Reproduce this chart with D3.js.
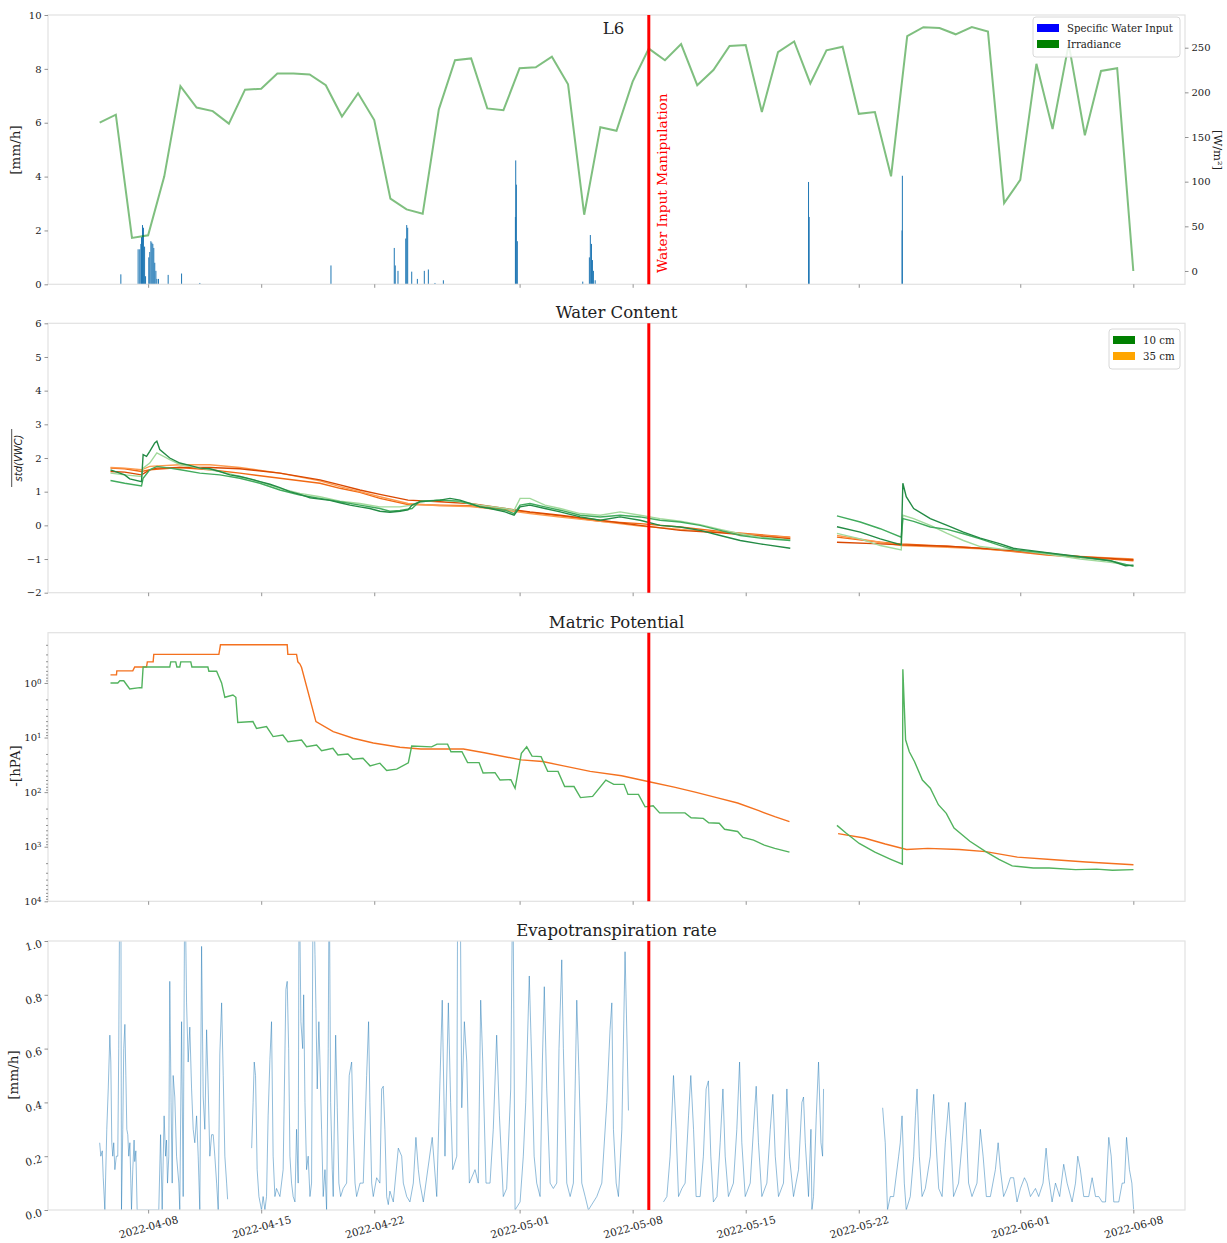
<!DOCTYPE html>
<html>
<head>
<meta charset="utf-8">
<script src="https://cdn.jsdelivr.net/npm/d3@7"></script>
<style>
  body { margin: 0; background: #fff; }
  svg text { font-family: "DejaVu Serif", serif; fill: #222; }
</style>
</head>
<body>
<script>
// days are counted from 2022-04-05 00:00
const dayZero = new Date(2022, 3, 5);
const xTickLabels = ["2022-04-08", "2022-04-15", "2022-04-22", "2022-05-01", "2022-05-08",
  "2022-05-15", "2022-05-22", "2022-06-01", "2022-06-08"];
const manipulationDate = "2022-05-09";

// daily mean irradiance [W/m2], one per day from 2022-04-05 to 2022-06-08
const irradiance = [166, 175, 37, 40, 106, 207, 183, 179, 165, 203, 204, 221, 221, 220, 208, 173,
  199, 169, 81, 69, 64, 181, 236, 238, 182, 180, 227, 228, 240, 209, 63, 161, 157, 212, 249, 236,
  254, 208, 225, 252, 253, 178, 245, 257, 210, 247, 251, 176, 178, 106, 263, 273, 272, 265, 273,
  268, 76, 102, 232, 159, 254, 152, 224, 227, 0];

// hourly specific water input [mm/h]
const rainDays = [1.31, 2.38, 2.48, 2.55, 2.59, 2.65, 2.71, 2.78, 2.84, 3.04, 3.1, 3.17, 3.23, 3.29,
  3.35, 3.41, 3.48, 3.54, 3.64, 4.24, 5.07, 6.2, 14.32, 18.24, 18.3, 18.47, 18.95, 19.01, 19.07,
  19.32, 19.67, 20.1, 20.35, 20.76, 21.28, 25.74, 25.76, 25.8, 25.86, 29.91, 30.32, 30.38, 30.45,
  30.51, 30.57, 30.68, 43.89, 43.93, 49.68, 49.7];
const rainRates = [0.37, 1.3, 1.3, 1.5, 1.75, 2.2, 2.1, 1.4, 0.3, 1.0, 1.2, 1.6, 1.55, 1.5,
  1.35, 0.8, 0.5, 0.2, 0.2, 0.35, 0.4, 0.05, 0.7, 1.35, 0.7, 0.5, 1.7, 2.2, 2.1,
  0.47, 0.2, 0.5, 0.55, 0.05, 0.15, 2.5, 4.6, 3.7, 1.6, 0.1, 1.0, 1.83, 1.5,
  0.9, 0.5, 0.15, 3.8, 2.5, 2.0, 4.03];

// standardised water content, [day, value]; null marks the logger gap
const vwc10a = [[0.67, 1.65], [1.55, 1.5], [1.86, 1.38], [2.59, 1.3], [2.69, 2.1], [2.9, 2.05], [3.1, 2.2],
  [3.41, 2.45], [3.54, 2.5], [3.72, 2.25], [4.34, 2.0], [4.96, 1.85], [5.58, 1.78], [6.2, 1.7], [6.82, 1.68],
  [7.44, 1.6], [8.06, 1.5], [8.68, 1.45], [9.3, 1.38], [9.92, 1.3], [10.54, 1.22], [11.16, 1.12],
  [11.78, 1.0], [12.4, 0.92], [13.02, 0.82], [13.64, 0.78], [14.26, 0.74], [14.88, 0.67], [15.5, 0.6],
  [16.11, 0.55], [16.73, 0.5], [17.35, 0.42], [17.97, 0.39], [18.59, 0.42], [19.09, 0.46], [19.34, 0.6],
  [19.83, 0.7], [21.07, 0.75], [21.69, 0.8], [22.31, 0.75], [22.93, 0.65], [23.55, 0.55], [24.17, 0.5],
  [25.1, 0.4], [25.66, 0.3], [26.03, 0.55], [26.64, 0.6], [27.57, 0.5], [28.51, 0.4], [29.75, 0.25],
  [30.99, 0.15], [32.22, 0.25], [33.46, 0.15], [34.7, 0.0], [35.94, -0.05], [37.18, -0.15], [38.42, -0.3],
  [39.66, -0.45], [40.9, -0.55], [42.76, -0.68], [44, null], [45.65, -0.04], [47.09, -0.2], [48.33, -0.4],
  [49.63, -0.58], [49.73, 1.25], [49.94, 0.85], [50.4, 0.5], [51.43, 0.2], [52.47, 0.0], [53.48, -0.2],
  [54.52, -0.38], [55.77, -0.55], [56.57, -0.68], [58.66, -0.81], [60.72, -0.93], [62.58, -1.05],
  [63.51, -1.2], [64.01, -1.18]];
const vwc10b = [[0.67, 1.33], [1.55, 1.25], [2.59, 1.17], [2.69, 1.4], [3.1, 1.65], [3.54, 1.75], [4.34, 1.7],
  [5.0, 1.65], [6.2, 1.55], [7.44, 1.5], [8.68, 1.4], [9.92, 1.25], [11.16, 1.05], [12.4, 0.9], [13.64, 0.8],
  [14.88, 0.7], [16.11, 0.6], [17.35, 0.5], [17.97, 0.42], [18.59, 0.44], [19.34, 0.5], [19.83, 0.72],
  [21.07, 0.75], [22.31, 0.72], [23.55, 0.55], [25.1, 0.45], [25.66, 0.35], [26.03, 0.6], [26.64, 0.65],
  [27.57, 0.55], [28.51, 0.45], [29.75, 0.3], [30.99, 0.25], [32.22, 0.3], [33.46, 0.25], [34.7, 0.15],
  [35.94, 0.1], [37.18, 0.0], [38.42, -0.15], [39.66, -0.3], [40.9, -0.38], [42.76, -0.45], [44, null],
  [45.65, 0.28], [47.09, 0.1], [48.33, -0.1], [49.63, -0.35], [49.73, 0.2], [50.4, 0.12], [51.43, -0.05],
  [52.47, -0.12], [53.48, -0.25], [54.52, -0.4], [55.77, -0.6], [56.57, -0.72], [58.66, -0.82],
  [60.72, -0.95], [62.58, -1.05], [64.01, -1.22]];
const vwc10c = [[0.67, 1.55], [1.55, 1.5], [2.59, 1.45], [2.69, 1.7], [3.1, 1.85], [3.54, 2.15], [4.34, 1.95],
  [5.0, 1.8], [6.2, 1.7], [7.44, 1.6], [8.68, 1.45], [9.92, 1.3], [11.16, 1.1], [12.4, 0.95], [13.64, 0.85],
  [14.88, 0.72], [16.11, 0.65], [17.35, 0.55], [18.59, 0.55], [19.34, 0.6], [19.83, 0.7], [21.07, 0.75],
  [22.31, 0.7], [23.55, 0.6], [25.1, 0.5], [25.66, 0.45], [26.03, 0.8], [26.64, 0.8], [27.57, 0.6],
  [28.51, 0.5], [29.75, 0.35], [30.99, 0.3], [32.22, 0.4], [33.46, 0.3], [34.7, 0.2], [35.94, 0.12],
  [37.18, 0.02], [38.42, -0.12], [39.66, -0.25], [40.9, -0.35], [42.76, -0.43], [44, null], [45.65, -0.24],
  [47.09, -0.4], [48.33, -0.6], [49.63, -0.73], [49.73, 0.3], [50.4, 0.2], [51.43, 0.0], [52.47, -0.24],
  [53.48, -0.45], [54.52, -0.63], [55.77, -0.7], [56.57, -0.72], [58.66, -0.85], [60.72, -1.0],
  [62.58, -1.1], [64.01, -1.2]];
const vwc35a = [[0.67, 1.6], [1.55, 1.58], [2.59, 1.5], [3.1, 1.65], [3.54, 1.7], [4.96, 1.72], [6.82, 1.72],
  [8.68, 1.68], [11.16, 1.55], [13.64, 1.35], [14.88, 1.2], [16.11, 1.05], [17.35, 0.92], [19.09, 0.75],
  [21.07, 0.7], [22.93, 0.65], [25.1, 0.5], [26.64, 0.4], [28.51, 0.3], [30.99, 0.15], [33.46, 0.0],
  [35.94, -0.15], [38.42, -0.22], [40.9, -0.32], [42.76, -0.4], [44, null], [45.65, -0.5], [48.33, -0.55],
  [49.63, -0.58], [52.47, -0.62], [54.52, -0.68], [56.57, -0.75], [58.66, -0.85], [60.72, -0.93],
  [62.58, -0.98], [64.01, -1.02]];
const vwc35b = [[0.67, 1.7], [1.55, 1.68], [2.59, 1.6], [3.1, 1.65], [4.96, 1.72], [6.82, 1.65], [8.68, 1.55],
  [11.16, 1.4], [13.64, 1.25], [14.88, 1.1], [16.11, 0.98], [17.35, 0.8], [19.09, 0.62], [21.07, 0.6],
  [22.93, 0.58], [25.1, 0.48], [26.64, 0.38], [28.51, 0.28], [30.99, 0.12], [33.46, 0.05], [35.94, -0.05],
  [38.42, -0.18], [40.9, -0.28], [42.76, -0.35], [44, null], [45.65, -0.35], [48.33, -0.5], [49.63, -0.55],
  [52.47, -0.62], [54.52, -0.68], [56.57, -0.78], [58.66, -0.88], [60.72, -0.95], [62.58, -1.0],
  [64.01, -1.05]];
const vwc35c = [[0.67, 1.72], [1.55, 1.7], [2.59, 1.65], [3.1, 1.75], [4.96, 1.8], [6.82, 1.8], [8.68, 1.72],
  [11.16, 1.55], [13.64, 1.32], [14.88, 1.15], [16.11, 1.0], [17.35, 0.85], [19.09, 0.65], [21.07, 0.58],
  [22.93, 0.56], [25.1, 0.45], [26.64, 0.35], [28.51, 0.25], [30.99, 0.12], [33.46, -0.02], [35.94, -0.12],
  [38.42, -0.2], [40.9, -0.3], [42.76, -0.36], [44, null], [45.65, -0.3], [48.33, -0.5], [49.63, -0.6],
  [52.47, -0.65], [54.52, -0.7], [56.57, -0.76], [58.66, -0.85], [60.72, -0.92], [62.58, -0.97],
  [64.01, -1.0]];

// matric potential, -[hPa], [day, value]
const matric10 = [[0.67, 1.0], [1.12, 1.0], [1.25, 0.91], [1.49, 0.91], [1.86, 1.29], [2.48, 1.22], [2.61, 1.22],
  [2.69, 0.51], [4.34, 0.51], [4.4, 0.41], [4.71, 0.41], [4.78, 0.51], [4.96, 0.51], [5.02, 0.41], [5.64, 0.41],
  [5.71, 0.51], [6.7, 0.51], [6.76, 0.61], [7.24, 0.61], [7.55, 1.0], [7.75, 1.83], [8.25, 1.66], [8.43, 1.83],
  [8.55, 5.3], [9.49, 5.1], [9.71, 6.8], [10.33, 6.3], [10.74, 9.6], [11.34, 9.0], [11.65, 11.9], [12.5, 11.1],
  [12.81, 14.7], [13.43, 13.7], [13.74, 17.4], [14.44, 15.7], [14.75, 20.8], [15.37, 20], [15.68, 25],
  [16.3, 24], [16.74, 33], [17.35, 29.5], [17.77, 40], [18.39, 38], [19.11, 29], [19.32, 14.3], [20.55, 14.8],
  [20.89, 13.2], [21.54, 13.2], [21.75, 18.2], [22.43, 18.2], [22.78, 28.8], [23.49, 28.8], [23.74, 44.7],
  [24.48, 44], [24.79, 60], [25.46, 59], [25.72, 85], [26.11, 19.5], [26.44, 14.8], [26.77, 21.9],
  [27.33, 22.4], [27.74, 41.7], [28.38, 41.7], [28.79, 79], [29.37, 79], [29.77, 126], [30.52, 120],
  [31.34, 60], [31.83, 72], [32.47, 72], [32.71, 110], [33.36, 110], [33.77, 186], [34.27, 178], [34.67, 240],
  [36.24, 240], [36.62, 295], [37.37, 302], [37.71, 363], [38.36, 372], [38.69, 479], [39.5, 525],
  [39.83, 676], [40.49, 759], [41.15, 933], [41.8, 1072], [42.71, 1259], [44, null], [45.65, 407],
  [46.21, 562], [47.03, 871], [48.0, 1259], [48.98, 1698], [49.7, 2089], [49.73, 0.56], [49.9, 11],
  [50.13, 18.2], [50.45, 27.5], [50.94, 60], [51.43, 85], [51.93, 170], [52.42, 245], [52.9, 457],
  [53.88, 794], [54.86, 1230], [55.68, 1698], [56.5, 2239], [57.81, 2455], [58.79, 2455], [60.42, 2630],
  [61.72, 2570], [62.71, 2692], [64.01, 2630]];
const matric35 = [[0.67, 0.71], [1.04, 0.71], [1.06, 0.6], [2.05, 0.6], [2.17, 0.51], [2.9, 0.51], [2.95, 0.41],
  [3.31, 0.41], [3.35, 0.3], [7.38, 0.3], [7.48, 0.2], [11.61, 0.2], [11.65, 0.3], [12.19, 0.3], [12.27, 0.41],
  [12.4, 0.45], [12.5, 0.52], [13.39, 5.1], [14.46, 7.8], [15.7, 10.3], [16.94, 12.6], [18.59, 15.1],
  [19.89, 16.2], [22.52, 16.2], [23.82, 19], [26.11, 25.7], [27.42, 27.5], [28.72, 33], [30.37, 41.7],
  [32.32, 50], [34.02, 64.6], [35.57, 81], [36.87, 100], [38.2, 126], [39.5, 158], [40.81, 219], [41.8, 282],
  [42.71, 347], [44, null], [45.72, 575], [47.34, 692], [48.64, 891], [49.96, 1122], [51.27, 1072],
  [53.23, 1122], [54.86, 1230], [56.82, 1549], [59.11, 1738], [61.07, 1905], [64.01, 2138]];

// evapotranspiration rate [mm/h]; null marks gaps in the record
const etDays = [0.0, 0.07, 0.16, 0.22, 0.32, 0.44, 0.53, 0.63, 0.69, 0.75, 0.81, 0.87, 0.94, 1.03, 1.12, 1.18,
  1.25, 1.31, 1.35, 1.43, 1.49, 1.56, 1.62, 1.68, 1.74, 1.8, 1.87, 1.93, 1.97, 2.05, 2.13, 2.17, 2.24, 2.32,
  3.66, 3.77, 3.87, 3.99, 4.08, 4.14, 4.2, 4.28, 4.34, 4.42, 4.49, 4.55, 4.65, 4.76, 4.9, 4.96, 5.07, 5.17,
  5.27, 5.38, 5.48, 5.58, 5.69, 5.79, 5.89, 6.0, 6.1, 6.2, 6.31, 6.41, 6.51, 6.62, 6.72, 6.82, 6.93, 7.03,
  7.13, 7.24, 7.34, 7.44, 7.55, 7.65, 7.75, 7.86, 7.92, 8.6,
  9.41, 9.5, 9.57, 9.65, 9.75, 9.86, 10.02, 10.12, 10.23, 10.33, 10.43, 10.54, 10.64, 10.74, 10.85, 10.95,
  11.16, 11.36, 11.53, 11.61, 11.7, 11.78, 11.88, 11.98, 12.09, 12.19, 12.29, 12.35, 12.46, 12.57, 12.63,
  12.71, 12.81, 12.91, 13.02, 13.12, 13.22, 13.33, 13.39, 13.47, 13.57, 13.64, 13.74, 13.84, 13.95, 14.05,
  14.15, 14.21, 14.3, 14.4, 14.46, 14.61, 14.71, 14.81, 14.92, 15.08, 15.29, 15.45, 15.6, 15.7, 15.81,
  15.91, 16.12, 16.32, 16.53, 16.65, 16.73, 16.84, 16.94, 17.15, 17.35, 17.46, 17.56, 17.66, 17.77, 17.87,
  17.97, 18.18, 18.49, 18.7, 18.8, 19.01, 19.21, 19.42, 19.58, 19.73, 19.83, 20.04, 20.59, 20.87, 21.21,
  21.38, 21.59, 21.73, 21.86, 22.11, 22.17, 22.31, 22.42, 22.58, 22.73, 22.89, 23.24, 23.44, 23.59, 23.72,
  23.92, 24.17, 24.37, 24.58, 24.75, 24.99, 25.2, 25.45, 25.58, 25.72, 26.03, 26.23, 26.38, 26.6, 26.75,
  26.9, 27.06, 27.27, 27.41, 27.53, 27.68, 27.89, 28.09, 28.3, 28.44, 28.61, 28.71, 28.92, 29.13, 29.33,
  29.54, 29.68, 29.85, 30.06, 30.26, 30.78, 31.09, 31.4, 31.6, 31.71, 31.81, 31.98, 32.12, 32.33, 32.53,
  32.68, 32.74, 33.8,
  34.91, 35.12, 35.32, 35.53, 35.69, 35.84, 36.05, 36.25, 36.46, 36.6, 36.77, 36.93, 37.18, 37.38, 37.55,
  37.69, 37.84, 38.0, 38.22, 38.42, 38.59, 38.73, 38.93, 39.24, 39.45, 39.62, 39.76, 39.97, 40.28, 40.48,
  40.65, 40.79, 41.0, 41.31, 41.52, 41.68, 41.83, 42.03, 42.34, 42.55, 42.71, 42.96, 43.27, 43.48, 43.58,
  43.69, 43.89, 44.04, 44.1, 44.2, 44.37, 44.51, 44.66, 44.76, 44.82, 46.5,
  48.48, 48.64, 48.78, 48.95, 49.16, 49.47, 49.57, 49.68, 49.82, 49.94, 50.19, 50.4, 50.51, 50.61, 50.75,
  50.92, 51.12, 51.43, 51.54, 51.64, 51.74, 51.95, 52.16, 52.36, 52.57, 52.71, 52.87, 53.18, 53.4, 53.6,
  53.8, 54.01, 54.32, 54.53, 54.7, 54.9, 55.15, 55.46, 55.63, 55.77, 55.97, 56.18, 56.39, 56.59, 56.8,
  57.01, 57.26, 57.42, 57.63, 57.94, 58.14, 58.41, 58.6, 58.76, 58.97, 59.18, 59.44, 59.69, 59.9, 60.21,
  60.42, 60.56, 60.72, 60.93, 61.24, 61.45, 61.66, 61.86, 62.07, 62.28, 62.48, 62.63, 62.79, 63.1, 63.31,
  63.45, 63.58, 63.76, 63.91, 64.02];
const etRates = [0.25, 0.2, 0.22, 0.12, 0, 0.3, 0.45, 0.65, 0.55, 0.25, 0.2, 0.25, 0.15, 0.2, 0.2, 0.6,
  1.3, 1.3, 0, 0.3, 0.6, 0.69, 0.5, 0.3, 0.28, 0.2, 0.25, 0.1, 0, 0.15, 0.26, 0.18, 0.22, 0,
  0, 0.28, 0, 0.35, 0.2, 0.26, 0.1, 0.2, 0.85, 0.4, 0.1, 0.5, 0.42, 0.2, 0.1, 0, 0.7, 0.05,
  1.3, 0.77, 0.55, 0.68, 0.45, 0.3, 0.25, 0.35, 0.2, 0, 0.98, 0.42, 0.3, 0.67, 0.45, 0.2, 0.28, 0.28,
  0.2, 0.1, 0, 0.58, 0.77, 0.5, 0.2, 0.1, 0.04, null,
  0.23, 0.4, 0.55, 0.5, 0.15, 0.05, 0, 0.05, 0, 0.05, 0.35, 0.56, 0.7, 0.2, 0.05, 0.08,
  0.05, 0.15, 0.82, 0.85, 0.6, 0.2, 0.1, 0.05, 0.03, 0.3, 0.1, 1.3, 0.7, 0.6, 0.8,
  0.4, 0.15, 0.2, 0.05, 0.1, 1.3, 0.95, 0.75, 0.45, 0.7, 0.55, 0.3, 0.05, 0.15, 0,
  0.6, 1.3, 0.4, 0.15, 0.05, 0.65, 0.38, 0.1, 0.05, 0.08, 0.1, 0.5, 0.55, 0.3, 0.1,
  0.05, 0.1, 0.1, 0.5, 0.7, 0.4, 0.1, 0.05, 0.12, 0.1, 0.45, 0.46, 0.3, 0.05, 0.02,
  0.07, 0.03, 0.23, 0.2, 0.1, 0.05, 0.03, 0.1, 0.27, 0.15, 0.1, 0.03, 0.27, 0.05, 0.78,
  0.2, 0.77, 0.4, 0.15, 0.2, 1.3, 1.3, 0.38, 0.7, 0.55, 0.1, 0.15, 0.1, 0.78, 0.55,
  0.1, 0.1, 0.3, 0.65, 0.35, 0.05, 0.08, 0.45, 1.3, 0, 0.03, 0.2, 0.4, 0.87, 0.55,
  0.2, 0.1, 0.05, 0.55, 0.83, 0.45, 0.1, 0.08, 0.1, 0.6, 0.93, 0.6, 0.1, 0.05, 0.1,
  0.78, 0.5, 0.1, 0.05, 0, 0.05, 0.1, 0.4, 0.67, 0.77, 0.3, 0.1, 0.05, 0.3, 0.96,
  0.55, 0.37, null,
  0.03, 0.05, 0.2, 0.5, 0.3, 0.05, 0.08, 0.1, 0.35, 0.5, 0.3, 0.05, 0.05, 0.2, 0.45,
  0.48, 0.2, 0.03, 0.05, 0.25, 0.45, 0.2, 0.05, 0.1, 0.3, 0.55, 0.25, 0.05, 0.1, 0.3,
  0.46, 0.25, 0.05, 0.1, 0.3, 0.43, 0.2, 0.05, 0.1, 0.45, 0.2, 0.05, 0.15, 0.4, 0.42,
  0.25, 0.05, 0.3, 0.0, 0.05, 0.35, 0.55, 0.25, 0.2, 0.45, null,
  0.38, 0.25, 0, 0.05, 0.05, 0.2, 0.25, 0.35, 0.1, 0, 0.05, 0.2, 0.35, 0.45, 0.2,
  0.05, 0.08, 0.2, 0.35, 0.43, 0.3, 0.08, 0.05, 0.25, 0.4, 0.25, 0.05, 0.1, 0.25, 0.4,
  0.1, 0.05, 0.1, 0.3, 0.2, 0.05, 0.05, 0.15, 0.25, 0.15, 0.05, 0.08, 0.12, 0.12, 0.03,
  0.08, 0.12, 0.1, 0.05, 0.08, 0.05, 0.1, 0.23, 0.12, 0.03, 0.1, 0.05, 0.17, 0.1, 0.03,
  0.1, 0.2, 0.15, 0.05, 0.05, 0.12, 0.05, 0.05, 0.03, 0.03, 0.27, 0.2, 0.03, 0.03, 0.1,
  0.1, 0.27, 0.15, 0.1, 0];

const W = 1227, H = 1243;
const left = 48, right = 1185;
const panels = [
  {top: 15, bottom: 284.3},
  {top: 323.3, bottom: 592.7},
  {top: 632.7, bottom: 901.3},
  {top: 941, bottom: 1210}
];

const toDate = d => new Date(dayZero.getTime() + d * 864e5);
const parseDay = d3.timeParse("%Y-%m-%d");
const xTicks = xTickLabels.map(parseDay);
const manipulation = parseDay(manipulationDate);

const svg = d3.select("body").append("svg")
  .attr("width", W)
  .attr("height", H);

const x = d3.scaleTime()
  .domain([toDate(-3.2), toDate(67.2)])
  .range([left, right]);

const defs = svg.append("defs");
panels.forEach((p, i) => {
  defs.append("clipPath").attr("id", "clip" + i)
    .append("rect")
    .attr("x", left).attr("y", p.top)
    .attr("width", right - left).attr("height", p.bottom - p.top);
});

const styleAxis = (g, size) => {
  g.select(".domain").remove();
  g.selectAll(".tick line").attr("stroke", "#777").attr("stroke-width", 0.8);
  g.selectAll(".tick text").attr("font-size", size || 10).attr("fill", "#222")
    .attr("font-family", "DejaVu Serif");
};

function frame(i) {
  const p = panels[i];
  svg.append("rect")
    .attr("x", left).attr("y", p.top)
    .attr("width", right - left).attr("height", p.bottom - p.top)
    .attr("fill", "none")
    .attr("stroke", "#e2e2e2")
    .attr("stroke-width", 1.2);

  const ax = svg.append("g")
    .attr("transform", "translate(0," + p.bottom + ")")
    .call(d3.axisBottom(x).tickValues(xTicks).tickSize(3.5)
      .tickFormat(i === 3 ? d3.timeFormat("%Y-%m-%d") : () => ""));
  styleAxis(ax, 10.5);
  if (i === 3) {
    ax.selectAll(".tick text")
      .attr("y", 0).attr("dy", "0.35em")
      .attr("text-anchor", "middle")
      .attr("transform", "translate(0,17) rotate(-15)");
  }
}

function redLine(i) {
  const p = panels[i];
  svg.append("line")
    .attr("x1", x(manipulation)).attr("x2", x(manipulation))
    .attr("y1", p.top).attr("y2", p.bottom)
    .attr("stroke", "red")
    .attr("stroke-width", 3);
}

function title(i, text) {
  svg.append("text")
    .attr("x", (left + right) / 2)
    .attr("y", panels[i].top - 5)
    .attr("text-anchor", "middle")
    .attr("font-size", 16.5)
    .text(text);
}

function yLabel(text, cx, cy, size) {
  svg.append("text")
    .attr("transform", "translate(" + cx + "," + cy + ") rotate(-90)")
    .attr("text-anchor", "middle")
    .attr("font-size", size || 13.5)
    .text(text);
}

function legend(x0, y0, w, items) {
  const g = svg.append("g").attr("transform", "translate(" + x0 + "," + y0 + ")");
  g.append("rect")
    .attr("width", w).attr("height", 8 + items.length * 16)
    .attr("rx", 3)
    .attr("fill", "white").attr("fill-opacity", 0.85)
    .attr("stroke", "#d8d8d8");
  items.forEach((it, k) => {
    g.append("rect")
      .attr("x", 4).attr("y", 8 + k * 16 - 1)
      .attr("width", 22).attr("height", 8)
      .attr("fill", it.color);
    g.append("text")
      .attr("x", 34).attr("y", 8 + k * 16 + 6.5)
      .attr("font-size", 10.2)
      .text(it.label);
  });
}

// ---- panel 1: water input + irradiance
const p1 = panels[0];
const yRain = d3.scaleLinear().domain([0, 10]).range([p1.bottom, p1.top]);
const yIrr = d3.scaleLinear().domain([-14.9, 286.6]).range([p1.bottom, p1.top]);

const rain = rainDays.map((d, i) => ({t: toDate(d), v: rainRates[i]}));
svg.append("g")
  .attr("clip-path", "url(#clip0)")
  .selectAll("rect")
  .data(rain)
  .enter()
  .append("rect")
  .attr("x", d => x(d.t) - 0.5)
  .attr("y", d => yRain(d.v))
  .attr("width", d => Math.max(1, x(d3.timeHour.offset(d.t, 1)) - x(d.t)))
  .attr("height", d => yRain(0) - yRain(d.v))
  .attr("fill", "#1f77b4");

svg.append("path")
  .datum(irradiance.map((v, i) => ({t: toDate(i), v: v})))
  .attr("fill", "none")
  .attr("stroke", "green")
  .attr("stroke-opacity", 0.5)
  .attr("stroke-width", 2)
  .attr("d", d3.line().x(d => x(d.t)).y(d => yIrr(d.v)));

frame(0);
styleAxis(svg.append("g").attr("transform", "translate(" + left + ",0)")
  .call(d3.axisLeft(yRain).tickValues([0, 2, 4, 6, 8, 10]).tickSize(3.5).tickPadding(3)));
styleAxis(svg.append("g").attr("transform", "translate(" + right + ",0)")
  .call(d3.axisRight(yIrr).tickValues([0, 50, 100, 150, 200, 250]).tickSize(3.5).tickPadding(3)));
yLabel("[mm/h]", 20, 150);
svg.append("text")
  .attr("transform", "translate(1214,150) rotate(90)")
  .attr("text-anchor", "middle")
  .attr("font-size", 11.5)
  .text("[W/m²]");
redLine(0);
svg.append("text")
  .attr("transform", "translate(" + (x(manipulation) + 18) + "," + yRain(0.42) + ") rotate(-90)")
  .attr("font-size", 13.7)
  .attr("fill", "red")
  .style("fill", "red")
  .text("Water Input Manipulation");
svg.append("text")
  .attr("x", W / 2).attr("y", 34)
  .attr("text-anchor", "middle")
  .attr("font-size", 16.5)
  .text("L6");
legend(1033, 17, 147, [
  {label: "Specific Water Input", color: "blue"},
  {label: "Irradiance", color: "green"}
]);

// ---- panel 2: water content
const p2 = panels[1];
const yWc = d3.scaleLinear().domain([-2, 6]).range([p2.bottom, p2.top]);
const wcLine = d3.line()
  .defined(d => d[1] !== null)
  .x(d => x(toDate(d[0])))
  .y(d => yWc(d[1]));
const wcSeries = [
  {data: vwc35b, color: "#f16913"},
  {data: vwc35c, color: "#fd9a4e"},
  {data: vwc35a, color: "#d94801"},
  {data: vwc10c, color: "#a1d99b"},
  {data: vwc10b, color: "#41ab5d"},
  {data: vwc10a, color: "#238b45"}
];
svg.append("g")
  .attr("clip-path", "url(#clip1)")
  .selectAll("path")
  .data(wcSeries)
  .enter()
  .append("path")
  .attr("fill", "none")
  .attr("stroke", d => d.color)
  .attr("stroke-width", 1.4)
  .attr("d", d => wcLine(d.data));

frame(1);
styleAxis(svg.append("g").attr("transform", "translate(" + left + ",0)")
  .call(d3.axisLeft(yWc).tickValues(d3.range(-2, 7)).tickSize(3.5).tickPadding(3)
    .tickFormat(d => d < 0 ? "\u2212" + Math.abs(d) : d)));
title(1, "Water Content");
redLine(1);
// y label: lower half of a fraction, the numerator lies outside the figure
svg.append("line")
  .attr("x1", 11.7).attr("x2", 11.7)
  .attr("y1", 429).attr("y2", 487)
  .attr("stroke", "#222").attr("stroke-width", 0.8);
svg.append("text")
  .attr("transform", "translate(21.5,458) rotate(-90)")
  .attr("text-anchor", "middle")
  .attr("font-family", "DejaVu Sans")
  .style("font-family", "DejaVu Sans")
  .attr("font-style", "italic")
  .attr("font-size", 10)
  .text("std(VWC)");
legend(1109, 329, 71, [
  {label: "10 cm", color: "green"},
  {label: "35 cm", color: "orange"}
]);

// ---- panel 3: matric potential (log, inverted)
const p3 = panels[2];
const yMp = d3.scaleLog().domain([0.12, 1e4]).range([p3.top, p3.bottom]);
const mpLine = d3.line()
  .defined(d => d[1] !== null)
  .x(d => x(toDate(d[0])))
  .y(d => yMp(d[1]));
svg.append("g")
  .attr("clip-path", "url(#clip2)")
  .selectAll("path")
  .data([{data: matric35, color: "#f4711f"}, {data: matric10, color: "#52b35e"}])
  .enter()
  .append("path")
  .attr("fill", "none")
  .attr("stroke", d => d.color)
  .attr("stroke-width", 1.4)
  .attr("d", d => mpLine(d.data));

frame(2);
const minorTicks = [];
[-1, 0, 1, 2, 3].forEach(k => d3.range(2, 10).forEach(m => {
  const v = m * Math.pow(10, k);
  if (v >= 0.12 && v <= 1e4) minorTicks.push(v);
}));
styleAxis(svg.append("g").attr("transform", "translate(" + left + ",0)")
  .call(d3.axisLeft(yMp).tickValues(minorTicks).tickSize(2).tickFormat(() => "")));
const mpAxis = svg.append("g").attr("transform", "translate(" + left + ",0)")
  .call(d3.axisLeft(yMp).tickValues([1, 10, 100, 1000, 10000]).tickSize(3.5).tickPadding(3)
    .tickFormat(() => ""));
styleAxis(mpAxis);
mpAxis.selectAll(".tick text").each(function (d) {
  const t = d3.select(this);
  t.append("tspan").text("10");
  t.append("tspan").attr("dy", "-0.45em").attr("font-size", 7).text(Math.round(Math.log10(d)));
});
title(2, "Matric Potential");
yLabel("-[hPA]", 20, 766);
redLine(2);

// ---- panel 4: evapotranspiration
const p4 = panels[3];
const yEt = d3.scaleLinear().domain([0, 1]).range([p4.bottom, p4.top]);
const et = etDays.map((d, i) => ({t: toDate(d), v: etRates[i]}));
svg.append("path")
  .datum(et)
  .attr("clip-path", "url(#clip3)")
  .attr("fill", "none")
  .attr("stroke", "#1f77b4")
  .attr("stroke-opacity", 0.55)
  .attr("stroke-width", 0.9)
  .attr("d", d3.line().defined(d => d.v !== null).x(d => x(d.t)).y(d => yEt(d.v)));

frame(3);
const etAxis = svg.append("g").attr("transform", "translate(" + left + ",0)")
  .call(d3.axisLeft(yEt).tickValues([0, 0.2, 0.4, 0.6, 0.8, 1.0]).tickSize(3.5).tickPadding(3)
    .tickFormat(d3.format(".1f")));
styleAxis(etAxis, 10.5);
etAxis.selectAll(".tick text")
  .attr("x", -6.5).attr("dy", "0.35em")
  .attr("transform", "rotate(-15)");
title(3, "Evapotranspiration rate");
yLabel("[mm/h]", 18, 1075);
redLine(3);
</script>
</body>
</html>
